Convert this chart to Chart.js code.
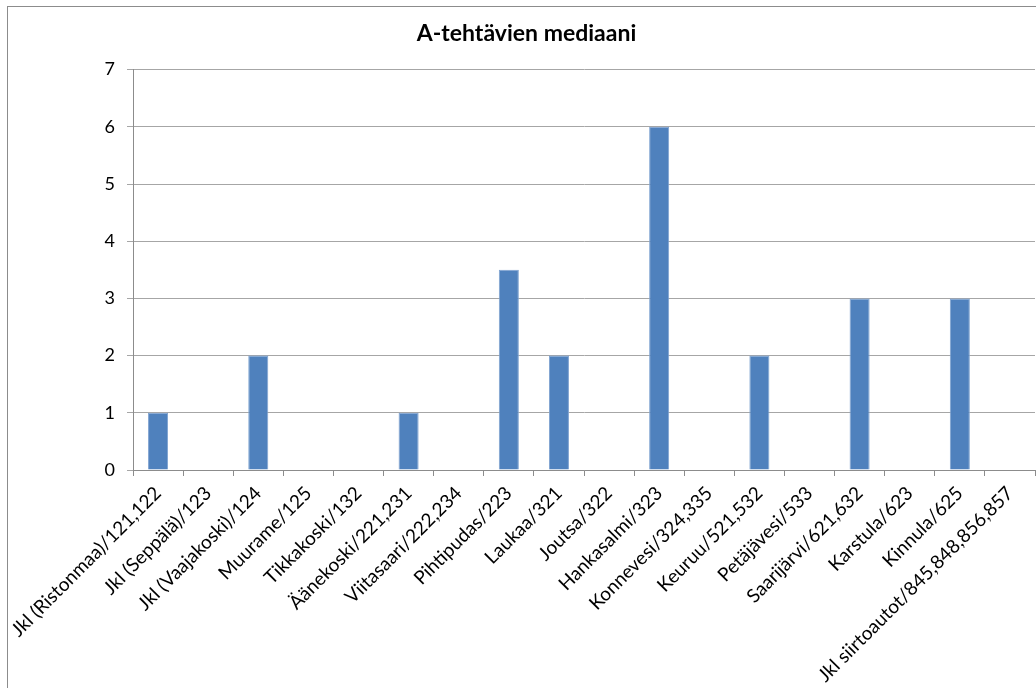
<!DOCTYPE html>
<html>
<head>
<meta charset="utf-8">
<script src="https://cdn.jsdelivr.net/npm/chart.js@4"></script>
<style>
html,body{margin:0;padding:0;background:#fff;}
#wrap{position:relative;width:1036px;height:688px;}
</style>
</head>
<body>
<div id="wrap"><canvas id="c" width="1036" height="688"></canvas></div>
<script>
const categories = ["Jkl (Ristonmaa)/121,122","Jkl (Seppälä)/123","Jkl (Vaajakoski)/124","Muurame/125","Tikkakoski/132","Äänekoski/221,231","Viitasaari/222,234","Pihtipudas/223","Laukaa/321","Joutsa/322","Hankasalmi/323","Konnevesi/324,335","Keuruu/521,532","Petäjävesi/533","Saarijärvi/621,632","Karstula/623","Kinnula/625","Jkl siirtoautot/845,848,856,857"];
const medianValues = [1,0,2,0,0,1,0,3.5,2,0,6,0,2,0,3,0,3,0];
const yTicks = [0,1,2,3,4,5,6,7];
const chartTitle = "A-tehtävien mediaani";

const FONT = "Lato, 'Open Sans', sans-serif";

const borderPlugin = {
  id: 'frame',
  beforeDraw(chart){
    const ctx = chart.ctx;
    ctx.save();
    ctx.fillStyle = '#fff';
    ctx.fillRect(0,0,chart.width,chart.height);
    ctx.strokeStyle = '#8c8c8c';
    ctx.lineWidth = 1;
    ctx.strokeRect(7.5,6.5,chart.width+10,chart.height+10);
    ctx.restore();
  }
};

new Chart(document.getElementById('c'), {
  type: 'bar',
  data: {
    labels: categories,
    datasets: [{
      data: medianValues,
      backgroundColor: '#4F81BD',
      borderColor: '#7FA3D1',
      borderWidth: {top:1,left:1,right:1,bottom:0},
      borderSkipped: 'bottom',
      barPercentage: 0.4,
      categoryPercentage: 1.0
    }]
  },
  options: {
    responsive: false,
    animation: false,
    devicePixelRatio: 1,
    layout: { padding: { left: 18, right: 1, top: 0, bottom: 0 } },
    plugins: {
      legend: { display: false },
      tooltip: { enabled: false },
      title: {
        display: true,
        text: chartTitle,
        color: '#000',
        font: { family: FONT, size: 23, weight: 'bold' },
        padding: { top: 20, bottom: 22 }
      }
    },
    scales: {
      x: {
        grid: { display: true, drawOnChartArea: false, drawTicks: true, tickLength: 6, color: '#8c8c8c', offset: true },
        border: { color: '#8c8c8c' },
        ticks: {
          autoSkip: false, maxRotation: 45, minRotation: 45,
          color: '#000', font: { family: FONT, size: 19 }, padding: 6
        },
        afterFit(scale){ scale.height = 218; }
      },
      y: {
        min: 0, max: 7,
        afterBuildTicks(scale){ scale.ticks = yTicks.map(v => ({value: v})); },
        grid: { color: '#a6a6a6', tickLength: 6, drawTicks: true },
        border: { color: '#8c8c8c' },
        ticks: { stepSize: 1, color: '#000', font: { family: FONT, size: 18 }, padding: 12 },
        afterFit(scale){ scale.width = 115; }
      }
    }
  },
  plugins: [borderPlugin]
});
</script>
</body>
</html>
